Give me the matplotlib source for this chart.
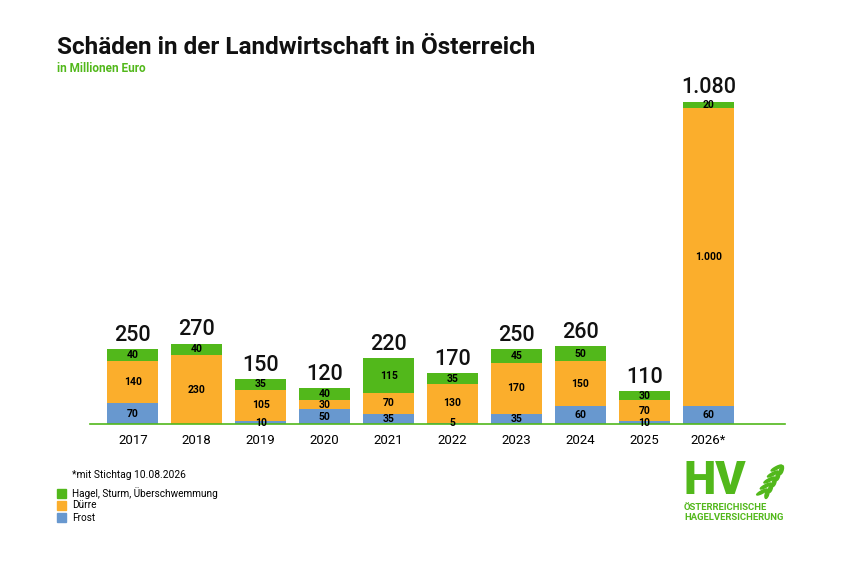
import matplotlib
matplotlib.use('Agg')
from matplotlib import pyplot as plt
from matplotlib.patches import Rectangle, Ellipse

years = ['2017', '2018', '2019', '2020', '2021', '2022', '2023', '2024', '2025', '2026*']
frost = [70, 0, 10, 50, 35, 5, 35, 60, 10, 60]
duerre = [140, 230, 105, 30, 70, 130, 170, 150, 70, 1000]
hagel = [40, 40, 35, 40, 115, 35, 45, 50, 30, 20]
totals = ['250', '270', '150', '120', '220', '170', '250', '260', '110', '1.080']

series_names = ['Hagel, Sturm, Überschwemmung', 'Dürre', 'Frost']

GREEN = '#52b81b'
ORANGE = '#fbae2c'
BLUE = '#6898cf'

plt.rcParams['font.family'] = ['Roboto', 'DejaVu Sans']


def fmt(v):
    # deutsche Tausendertrennung
    return '{:,}'.format(v).replace(',', '.')


fig = plt.figure(figsize=(8.42, 5.62), dpi=100)
ax = fig.add_axes([90 / 842, (562 - 424) / 562, 695 / 842, 344 / 562])

x = list(range(len(years)))
w = 0.8
ax.bar(x, frost, w, color=BLUE)
ax.bar(x, duerre, w, bottom=frost, color=ORANGE)
bottom2 = [a + b for a, b in zip(frost, duerre)]
ax.bar(x, hagel, w, bottom=bottom2, color=GREEN)

lab_font = dict(fontsize=7.5, fontweight='bold', ha='center', va='center',
                family=['Liberation Sans Narrow', 'Roboto', 'DejaVu Sans'])
for i in x:
    if frost[i] > 0:
        ax.text(i, frost[i] / 2, fmt(frost[i]), **lab_font)
    ax.text(i, frost[i] + duerre[i] / 2, fmt(duerre[i]), **lab_font)
    ax.text(i, bottom2[i] + hagel[i] / 2, fmt(hagel[i]), **lab_font)
    ax.text(i, bottom2[i] + hagel[i] + 12, totals[i], fontsize=15.5,
            fontweight='medium', ha='center', va='bottom', color='#111111')

ax.set_xlim(-0.67, 10.2)
ax.set_ylim(0, 344 / (322 / 1080))
ax.axhline(0, color=GREEN, lw=1.2, clip_on=False)
for s in ax.spines.values():
    s.set_visible(False)
ax.set_yticks([])
ax.set_xticks(x)
ax.set_xticklabels(years, fontsize=9.5)
ax.tick_params(axis='x', length=0, pad=7)

# Titel
fig.text(57 / 842, 1 - 48 / 562, 'Schäden in der Landwirtschaft in Österreich',
         fontsize=17.5, fontweight='bold', va='center', ha='left', color='#111111')
fig.text(57 / 842, 1 - 69 / 562, 'in Millionen Euro', fontsize=8.5,
         fontweight='bold', va='center', ha='left', color=GREEN)

# Fussnote und Legende
fig.text(72 / 842, 1 - 475 / 562, '*mit Stichtag 10.08.2026', fontsize=7.4,
         va='center', ha='left')
leg_colors = [GREEN, ORANGE, BLUE]
for k, (name, c) in enumerate(zip(series_names, leg_colors)):
    yy = 1 - (493 + k * 12.3) / 562
    fig.patches.append(Rectangle((57 / 842, yy - 4.5 / 562), 9 / 842, 9 / 562,
                                 transform=fig.transFigure, color=c))
    fig.text(72 / 842, yy, name, fontsize=7.2, va='center', ha='left')

# Logo
fig.text(683 / 842, 1 - 481 / 562, 'HV', fontsize=33, fontweight='black',
         color=GREEN, va='center', ha='left')
# Ähre
for k in range(5):
    cx = 762 + k * 3.6
    cy = 492 - k * 6
    fig.patches.append(Ellipse((cx / 842, 1 - cy / 562), 3.5 / 842, 9 / 562,
                               angle=-50, transform=fig.transFigure, color=GREEN))
    fig.patches.append(Ellipse(((cx + 5) / 842, 1 - (cy + 2) / 562), 3.5 / 842, 9 / 562,
                               angle=-10, transform=fig.transFigure, color=GREEN))
fig.text(684 / 842, 1 - 507 / 562, 'ÖSTERREICHISCHE', fontsize=6.8,
         fontweight='bold', color=GREEN, va='center', ha='left')
fig.text(684 / 842, 1 - 518 / 562, 'HAGELVERSICHERUNG', fontsize=6.8,
         fontweight='bold', color=GREEN, va='center', ha='left')

fig.savefig('out.png', dpi=100, facecolor='white')
